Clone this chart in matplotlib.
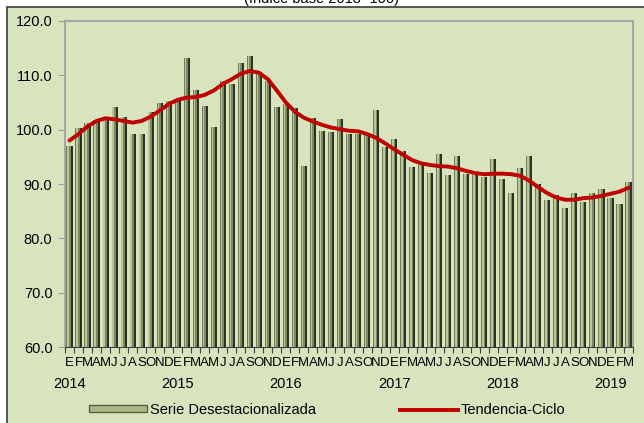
import matplotlib.pyplot as plt
import numpy as np
from matplotlib.patches import Rectangle
from matplotlib.lines import Line2D
import matplotlib.transforms as mtransforms

plt.rcParams['font.family'] = ['Liberation Sans', 'DejaVu Sans']

# Serie desestacionalizada, ene-2014 a mar-2019
serie = [97.0, 100.3, 101.3, 101.8, 101.8, 104.1, 102.4, 99.2, 99.2, 103.3, 104.9, 105.2,
         105.6, 113.2, 107.3, 104.4, 100.4, 108.9, 108.4, 112.2, 113.6, 110.6, 108.9, 104.1,
         104.7, 104.0, 93.4, 102.2, 99.7, 99.5, 101.9, 99.2, 99.2, 99.2, 103.7, 96.9,
         98.2, 96.0, 93.2, 93.5, 92.1, 95.5, 91.7, 95.1, 91.8, 91.7, 91.3, 94.6,
         90.9, 88.3, 92.9, 95.2, 90.0, 87.1, 88.0, 85.6, 88.3, 86.6, 88.3, 89.0,
         87.5, 86.3, 90.3]
tendencia = [98.0, 99.2, 100.6, 101.6, 102.1, 101.9, 101.6, 101.3, 101.6, 102.4, 103.5, 104.7,
             105.5, 105.9, 106.0, 106.4, 107.2, 108.4, 109.3, 110.3, 110.8, 110.5, 109.3, 107.2,
             105.0, 103.3, 102.2, 101.5, 100.9, 100.4, 100.1, 99.8, 99.7, 99.2, 98.5, 97.5,
             96.4, 95.4, 94.4, 93.8, 93.5, 93.3, 93.2, 92.9, 92.4, 92.0, 91.8, 91.9,
             91.9, 91.8, 91.5, 90.6, 89.4, 88.3, 87.5, 87.1, 87.1, 87.4, 87.5, 87.8,
             88.2, 88.6, 89.3]
meses = ['E', 'F', 'M', 'A', 'M', 'J', 'J', 'A', 'S', 'O', 'N', 'D']
anios = ['2014', '2015', '2016', '2017', '2018', '2019']

n = len(serie)
x = np.arange(n)
etiquetas = [meses[i % 12] for i in range(n)]

fig = plt.figure(figsize=(6.44, 4.23), dpi=100)
fig.patch.set_facecolor('white')
fig.patches.append(Rectangle((7 / 644, -0.01), 1.0, 1 - 7 / 423 + 0.01,
                             transform=fig.transFigure, facecolor='#D7E4BD',
                             edgecolor='#3a3a3a', lw=1.2, zorder=-5))
fig.text(0.5, 1 - 3 / 423, '(Índice base 2013=100)', ha='center', va='baseline',
         fontsize=10.5)

ax = fig.add_axes([65 / 644, 76 / 423, 568 / 644, 326 / 423])
ax.set_facecolor('#D7E4BD')

# barras tipo cilindro: franjas de color
franjas = [(-0.34, 0.10, '#6f7e55'), (-0.24, 0.18, '#b8c79a'),
           (-0.06, 0.18, '#7a895f'), (0.12, 0.22, '#2a3222')]
for off, w, c in franjas:
    ax.bar(x + off, np.array(serie) - 60, width=w, bottom=60, align='edge',
           color=c, lw=0, zorder=2)

ax.plot(x, tendencia, color='#C00000', lw=2.8, zorder=3, solid_capstyle='round')

ax.set_xlim(-0.5, n - 0.5)
ax.set_ylim(60, 120)
ax.set_yticks(np.arange(60, 121, 10))
ax.set_yticklabels([f'{v:.1f}' for v in np.arange(60, 121, 10)], fontsize=10.5)

ax.set_xticks(np.arange(n + 1) - 0.5)
ax.set_xticklabels([])
ax.set_xticks(x, minor=True)
ax.set_xticklabels(etiquetas, minor=True, fontsize=9.5)
ax.tick_params(axis='x', which='major', length=4, color='#404040', direction='out')
ax.tick_params(axis='x', which='minor', length=0, pad=7)
ax.tick_params(axis='y', length=5, color='#a0a0a0', pad=4)

for s in ['top', 'right', 'left']:
    ax.spines[s].set_color('#a6a6a6')
    ax.spines[s].set_linewidth(1.5)
ax.spines['bottom'].set_color('#404040')

trans = mtransforms.blended_transform_factory(ax.transData, ax.transAxes)
for k, a in enumerate(anios):
    ax.text(12 * k, -0.093, a, transform=trans, ha='center', va='top', fontsize=10.5)

h1 = Rectangle((0, 0), 1, 1, facecolor='#a9b98a', edgecolor='#56643f', lw=1)
h2 = Line2D([], [], color='#C00000', lw=2.8)
fig.legend([h1, h2], ['Serie Desestacionalizada', 'Tendencia-Ciclo'],
           loc='center', bbox_to_anchor=(0.508, 0.031), ncol=2, frameon=False,
           fontsize=10.5, handlelength=4.0, handleheight=0.35, handletextpad=0.15,
           columnspacing=5.8)

fig.savefig('out.png', dpi=100)
